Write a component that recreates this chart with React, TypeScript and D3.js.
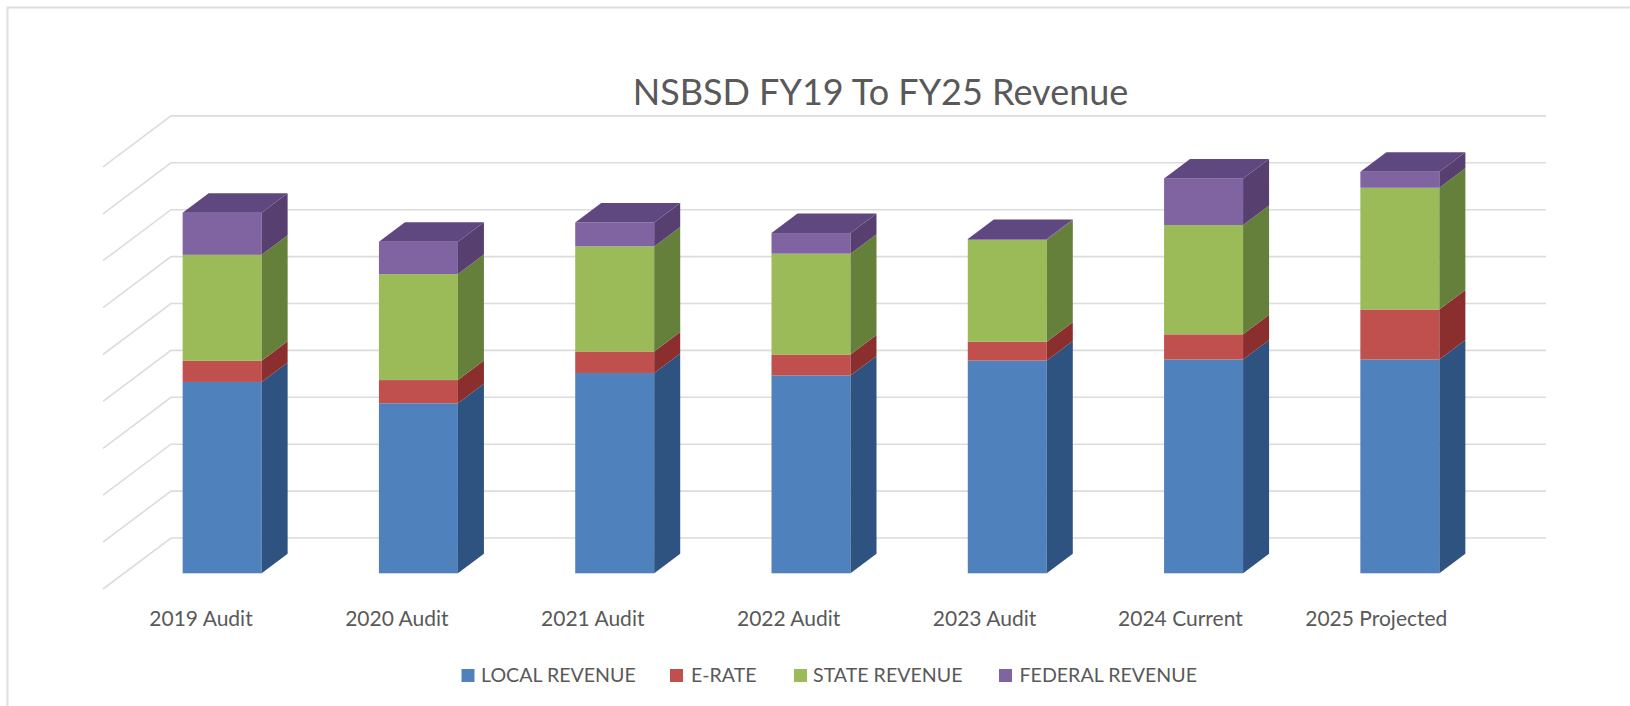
import React from "react";
import * as d3 from "d3";

const categories = ["2019 Audit", "2020 Audit", "2021 Audit", "2022 Audit", "2023 Audit", "2024 Current", "2025 Projected"];
const seriesNames = ["LOCAL REVENUE", "E-RATE", "STATE REVENUE", "FEDERAL REVENUE"];
const local = [8.16, 7.25, 8.54, 8.44, 9.07, 9.12, 9.12];
const erate = [0.90, 0.99, 0.92, 0.89, 0.80, 1.07, 2.13];
const state = [4.52, 4.52, 4.48, 4.30, 4.35, 4.66, 5.19];
const federal = [1.80, 1.38, 1.02, 0.88, 0.04, 1.99, 0.68];
const gridTicks = d3.range(0, 20, 2);
const title = "NSBSD FY19 To FY25 Revenue";

const frontColors = ["#4f81bd", "#c0504d", "#9bbb59", "#8064a2"];
const sideColors = ["#2f5380", "#8a2f2d", "#65803a", "#574070"];
const topColors = ["#3a5f8c", "#8f3533", "#6f8c40", "#5f4880"];
const font = "Lato, 'Open Sans', sans-serif";
const textColor = "#595959";
const gridColor = "#dcdcdc";

const W = 1630, H = 706;
const DX = 26, DY = -19.5;
const FLOOR_DX = 68, FLOOR_DY = 51;

export default function App() {
  const x = d3.scaleBand<string>().domain(categories).range([124, 1498]).paddingInner(0).paddingOuter(0);
  const labelX = d3.scalePoint<string>().domain(categories).range([201, 1376.3]);
  const barW = 79;
  const y = d3.scaleLinear().domain([0, 20]).range([573.3, 104.3]);
  const gridY = (v: number) => y(v) - 35.3;
  const gridRight = 1546, gridLeft = 171;

  const stacked = d3.stack<any>().keys(seriesNames)(
    categories.map((c, i) => ({
      category: c,
      [seriesNames[0]]: local[i],
      [seriesNames[1]]: erate[i],
      [seriesNames[2]]: state[i],
      [seriesNames[3]]: federal[i],
    }))
  );

  const legendX = [461.5, 670, 794, 999];
  const legendTextX = [481, 691, 813, 1019.5];

  return (
    <svg width={W} height={H} style={{ position: "absolute", left: 0, top: 0, background: "#fff" }}>
      <path d={`M7.5 ${H} V7.5 H${W}`} fill="none" stroke="#dedede" strokeWidth={2} />
      <text x={880.5} y={105} textAnchor="middle" fontFamily={font} fontSize={36} fill={textColor}>{title}</text>

      {gridTicks.map((t) => (
        <path
          key={t}
          d={d3.line()([[gridLeft - FLOOR_DX, gridY(t) + FLOOR_DY], [gridLeft, gridY(t)], [gridRight, gridY(t)]]) as string}
          fill="none"
          stroke={gridColor}
          strokeWidth={1.6}
        />
      ))}

      {categories.map((c, i) => {
        const bx = x(c)! + (x.bandwidth() - barW) / 2;
        return (
          <g key={c}>
            {stacked.map((s, k) => {
              const y0 = y(s[i][0]);
              const y1 = y(s[i][1]);
              return (
                <g key={s.key}>
                  <rect x={bx} y={y1} width={barW} height={y0 - y1} fill={frontColors[k]} />
                  <polygon
                    points={[[bx + barW, y1], [bx + barW + DX, y1 + DY], [bx + barW + DX, y0 + DY], [bx + barW, y0]].join(" ")}
                    fill={sideColors[k]}
                  />
                </g>
              );
            })}
            {(() => {
              const topY = y(stacked[3][i][1]);
              return (
                <polygon
                  points={[[bx, topY], [bx + DX, topY + DY], [bx + barW + DX, topY + DY], [bx + barW, topY]].join(" ")}
                  fill={topColors[3]}
                />
              );
            })()}
            <text x={labelX(c)} y={626} textAnchor="middle" fontFamily={font} fontSize={21} fill={textColor}>{c}</text>
          </g>
        );
      })}

      {seriesNames.map((n, k) => (
        <g key={n}>
          <rect x={legendX[k]} y={669} width={13} height={13} fill={frontColors[k]} />
          <text x={legendTextX[k]} y={682} fontFamily={font} fontSize={19.6} fill={textColor}>{n}</text>
        </g>
      ))}
    </svg>
  );
}
